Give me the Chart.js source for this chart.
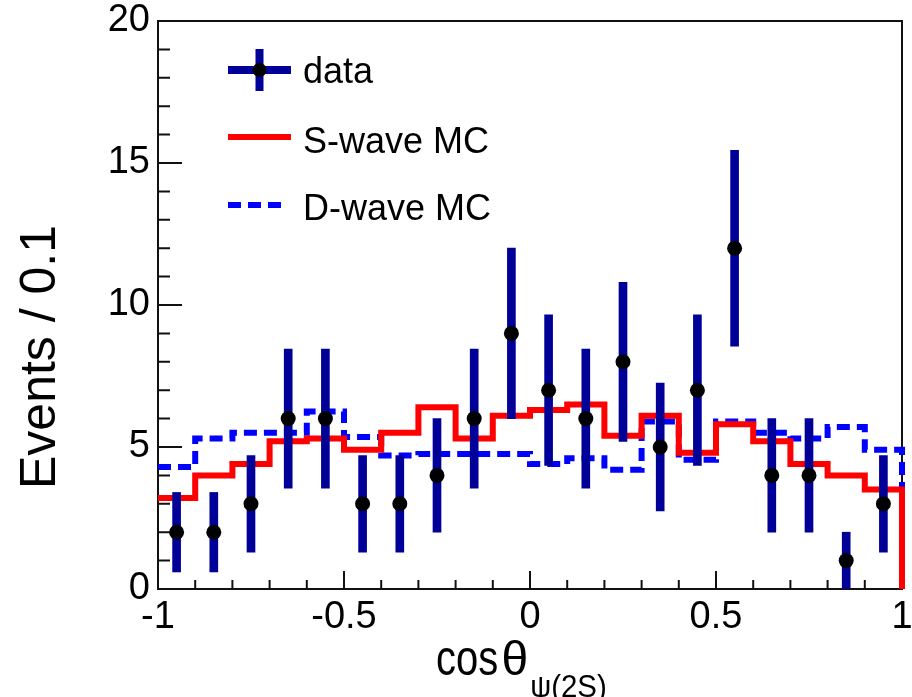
<!DOCTYPE html>
<html>
<head>
<meta charset="utf-8">
<title>cos theta psi(2S)</title>
<script src="https://cdn.jsdelivr.net/npm/chart.js@4.4.1/dist/chart.umd.min.js"></script>
<style>
  html, body { margin: 0; padding: 0; background: #fff; }
  #wrap { width: 912px; height: 697px; position: relative; }
</style>
</head>
<body>
<div id="wrap"><canvas id="chart"></canvas></div>
<script>
// bin centres of cos(theta), width 0.1
const binCenters = [-0.95, -0.85, -0.75, -0.65, -0.55, -0.45, -0.35, -0.25, -0.15, -0.05,
                     0.05,  0.15,  0.25,  0.35,  0.45,  0.55,  0.65,  0.75,  0.85,  0.95];
const dataCounts = [2, 2, 3, 6, 6, 3, 3, 4, 6, 9, 7, 6, 8, 5, 7, 12, 4, 4, 1, 3];
const errLow  = [0.6, 0.6, 1.3, 3.55, 3.55, 1.3, 1.3, 2.0, 3.55, 6.0, 4.35, 3.55, 5.2, 2.75, 4.35, 8.55, 2.0, 2.0, 0.0, 1.3];
const errHigh = [3.4, 3.4, 4.7, 8.45, 8.45, 4.7, 4.7, 6.0, 8.45, 12.0, 9.65, 8.45, 10.8, 7.25, 9.65, 15.45, 6.0, 6.0, 2.0, 4.7];
const sWave = [3.2, 4.0, 4.4, 5.2, 5.3, 4.9, 5.5, 6.4, 5.3, 6.1, 6.3, 6.5, 5.4, 6.1, 4.8, 5.8, 5.2, 4.4, 4.0, 3.5];
const dWave = [4.3, 5.3, 5.5, 5.5, 6.25, 5.35, 4.7, 4.75, 4.75, 4.75, 4.4, 4.6, 4.2, 5.9, 4.55, 5.9, 5.5, 5.3, 5.7, 4.9];
const xTickLabels = [-1, -0.5, 0, 0.5, 1];
const yTickLabels = [0, 5, 10, 15, 20];

const FONT = "'Liberation Sans', Arial, Helvetica, sans-serif";
const NAVY = '#000099';

// step histogram: left edge of every bin, then close at x = 1 and drop to 0
function histPoints(values) {
  const pts = values.map((v, i) => ({x: binCenters[i] - 0.05, y: v}));
  pts.push({x: 1, y: values[values.length - 1]});
  pts.push({x: 1, y: 0});
  return pts;
}

const decor = {
  id: 'decor',
  beforeDatasetsDraw(chart) {
    const {ctx, chartArea: a, scales: {x, y}} = chart;
    ctx.save();
    ctx.strokeStyle = '#111';
    ctx.lineWidth = 2;
    ctx.strokeRect(a.left, a.top, a.right - a.left, a.bottom - a.top);
    ctx.beginPath();
    for (let i = 0; i <= 20; i++) {
      const py = y.getPixelForValue(i);
      const len = i % 5 === 0 ? 24 : 12;
      ctx.moveTo(a.left, py);
      ctx.lineTo(a.left + len, py);
      const px = x.getPixelForValue(-1 + i * 0.1);
      const lx = i % 5 === 0 ? 18 : 9;
      ctx.moveTo(px, a.bottom);
      ctx.lineTo(px, a.bottom - lx);
    }
    ctx.stroke();
    ctx.restore();
  },
  afterDraw(chart) {
    const {ctx, chartArea: a} = chart;
    ctx.save();
    // legend
    const lx0 = a.left + 70, lx1 = a.left + 133;
    const rows = [a.top + 49, a.top + 116, a.top + 184];
    ctx.lineCap = 'butt';
    ctx.strokeStyle = NAVY;
    ctx.lineWidth = 8;
    ctx.beginPath();
    ctx.moveTo(lx0, rows[0]); ctx.lineTo(lx1, rows[0]);
    ctx.moveTo((lx0 + lx1) / 2, rows[0] - 21); ctx.lineTo((lx0 + lx1) / 2, rows[0] + 21);
    ctx.stroke();
    ctx.fillStyle = '#000';
    ctx.beginPath();
    ctx.arc((lx0 + lx1) / 2, rows[0], 7, 0, Math.PI * 2);
    ctx.fill();
    ctx.strokeStyle = '#ff0000';
    ctx.lineWidth = 6;
    ctx.beginPath();
    ctx.moveTo(lx0, rows[1]); ctx.lineTo(lx1, rows[1]);
    ctx.stroke();
    ctx.strokeStyle = '#0000ff';
    ctx.setLineDash([13, 7]);
    ctx.beginPath();
    ctx.moveTo(lx0, rows[2]); ctx.lineTo(lx1 - 8, rows[2]);
    ctx.stroke();
    ctx.setLineDash([]);

    ctx.fillStyle = '#000';
    ctx.font = '36px ' + FONT;
    ctx.textBaseline = 'alphabetic';
    ctx.textAlign = 'left';
    ctx.fillText('data', a.left + 145, rows[0] + 13);
    ctx.fillText('S-wave MC', a.left + 145, rows[1] + 16);
    ctx.fillText('D-wave MC', a.left + 145, rows[2] + 15);

    // y title
    ctx.save();
    ctx.translate(55, 357);
    ctx.rotate(-Math.PI / 2);
    ctx.font = '50px ' + FONT;
    ctx.textAlign = 'center';
    ctx.fillText('Events / 0.1', 0, 0);
    ctx.restore();

    // x title with subscript
    ctx.save();
    ctx.translate(436, 675);
    ctx.scale(0.8, 1);
    ctx.font = '50px ' + FONT;
    ctx.fillText('cos', 0, 0);
    const w = ctx.measureText('cos').width + 4;
    ctx.restore();
    ctx.save();
    ctx.translate(436 + w * 0.8, 675);
    ctx.font = '48px ' + FONT;
    ctx.fillText('\u03b8', 0, 0);
    const wt = ctx.measureText('\u03b8').width;
    ctx.restore();
    ctx.save();
    ctx.translate(436 + w * 0.8 + wt + 2, 697);
    ctx.scale(0.95, 1);
    ctx.font = '31px ' + FONT;
    ctx.fillText('\u03c8(2S)', 0, 0);
    ctx.restore();

    ctx.restore();
  }
};

const context = document.getElementById('chart').getContext('2d');
// eslint-disable-next-line no-undef
const chart = new Chart(context, {
  type: 'scatter',
  data: {
    datasets: [
      {
        type: 'line',
        label: 'D-wave MC',
        data: histPoints(dWave),
        stepped: 'before',
        borderColor: '#0000ff',
        borderWidth: 6,
        borderDash: [13, 7],
        borderJoinStyle: 'miter',
        pointRadius: 0,
        fill: false,
        clip: false,
        order: 4,
      },
      {
        type: 'line',
        label: 'S-wave MC',
        data: histPoints(sWave),
        stepped: 'before',
        borderColor: '#ff0000',
        borderWidth: 6,
        borderJoinStyle: 'miter',
        pointRadius: 0,
        fill: false,
        clip: false,
        order: 3,
      },
      {
        type: 'bar',
        label: 'error',
        data: binCenters.map((c, i) => ({x: c, y: [errLow[i], errHigh[i]]})),
        backgroundColor: NAVY,
        borderWidth: 0,
        barThickness: 8,
        grouped: false,
        order: 2,
      },
      {
        type: 'scatter',
        label: 'data',
        data: binCenters.map((c, i) => ({x: c, y: dataCounts[i]})),
        pointRadius: 7.5,
        pointBackgroundColor: '#000',
        pointBorderWidth: 0,
        order: 1,
      },
    ],
  },
  options: {
    responsive: true,
    maintainAspectRatio: false,
    animation: false,
    layout: {padding: {top: 21, right: 10, left: 0, bottom: 0}},
    plugins: {legend: {display: false}, tooltip: {enabled: false}},
    scales: {
      x: {
        type: 'linear',
        min: -1,
        max: 1,
        offset: false,
        grid: {display: false, drawTicks: false},
        border: {display: false},
        afterBuildTicks: (s) => { s.ticks = xTickLabels.map(v => ({value: v})); },
        afterFit: (s) => { s.height = 108; s.paddingLeft = 0; s.paddingRight = 0; },
        ticks: {
          font: {family: FONT, size: 38},
          color: '#000',
          padding: 6,
          maxRotation: 0,
          autoSkip: false,
          callback: (v) => String(v),
        },
      },
      y: {
        type: 'linear',
        min: 0,
        max: 20,
        grid: {display: false, drawTicks: false},
        border: {display: false},
        afterBuildTicks: (s) => { s.ticks = yTickLabels.map(v => ({value: v})); },
        afterFit: (s) => { s.width = 158; s.paddingTop = 0; s.paddingBottom = 0; },
        ticks: {
          font: {family: FONT, size: 38},
          color: '#000',
          padding: 8,
          autoSkip: false,
          callback: (v) => String(v),
        },
      },
    },
  },
  plugins: [decor],
});
</script>
</body>
</html>
